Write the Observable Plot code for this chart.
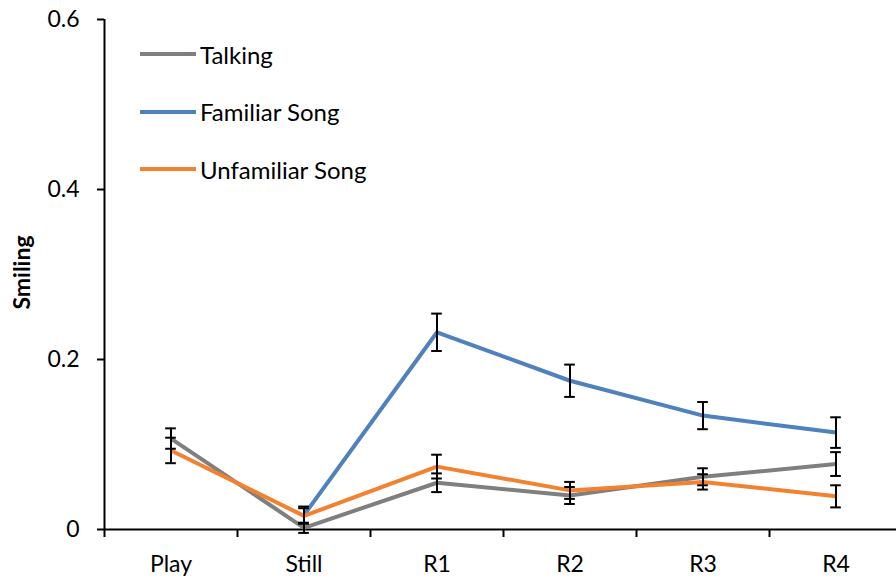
<!DOCTYPE html>
<html><head><meta charset="utf-8">
<script src="https://cdn.jsdelivr.net/npm/d3@7"></script>
<script src="https://cdn.jsdelivr.net/npm/@observablehq/plot@0.6"></script>
<style>
body{margin:0;background:#fff;}
#wrap{position:relative;width:896px;height:578px;font-family:Lato,"Open Sans",sans-serif;}
#legend{position:absolute;left:140px;top:39px;}
.item{display:flex;align-items:center;height:30px;margin-bottom:27.5px;font-size:24px;color:#000}
.sw{width:56px;height:4px;margin-right:4px}
</style></head><body><div id="wrap"><div id="legend"></div></div>
<script>
const categories = ["Play", "Still", "R1", "R2", "R3", "R4"];
const seriesNames = ["Talking", "Familiar Song", "Unfamiliar Song"];
const seriesColors = ["#7f7f7f", "#4f81bd", "#f28130"];
const talking      = [0.107, 0.002, 0.055, 0.040, 0.062, 0.077];
const talkingErr   = [0.012, 0.006, 0.011, 0.010, 0.010, 0.014];
const familiar     = [null,  0.017, 0.232, 0.175, 0.134, 0.114];
const familiarErr  = [null,  0.010, 0.022, 0.019, 0.016, 0.018];
const unfamiliar   = [0.093, 0.016, 0.074, 0.046, 0.056, 0.039];
const unfamiliarErr= [0.015, 0.009, 0.014, 0.010, 0.009, 0.013];
const yTicks = [0, 0.2, 0.4, 0.6];

const values = [talking, familiar, unfamiliar];
const errs = [talkingErr, familiarErr, unfamiliarErr];
const rows = [];
seriesNames.forEach((s, k) => categories.forEach((c, i) => {
  if (values[k][i] != null) rows.push({series: s, i, v: values[k][i], e: errs[k][i]});
}));
const capHalf = 0.04;
const xDomain = [-0.5, categories.length - 0.5];

const chart = Plot.plot({
  width: 896, height: 578,
  marginLeft: 104, marginRight: 0, marginTop: 19, marginBottom: 49,
  style: {fontFamily: "Lato, 'Open Sans', sans-serif", fontSize: "22px", color: "#000", background: "#fff"},
  x: {type: "linear", domain: xDomain, range: [104, 104 + 133 * categories.length]},
  y: {domain: [0, 0.6]},
  color: {domain: seriesNames, range: seriesColors},
  marks: [
    Plot.axisY({ticks: yTicks, tickFormat: d => d === 0 ? "0" : d3.format(".1f")(d), tickSize: 7, tickPadding: 18, label: null, stroke: "#000", strokeWidth: 2, fontSize: 23}),
    Plot.axisX({ticks: d3.range(-0.5, categories.length, 1), tickFormat: () => "", tickSize: 8, label: null, stroke: "#000", strokeWidth: 2}),
    Plot.axisX({ticks: d3.range(categories.length), tickFormat: i => categories[i], tickSize: 0, tickPadding: 26, label: null, fontSize: 23}),
    Plot.ruleY([0], {stroke: "#000", strokeWidth: 2}),
    Plot.ruleX([xDomain[0]], {stroke: "#000", strokeWidth: 2}),
    Plot.text(["Smiling"], {frameAnchor: "left", textAnchor: "middle", rotate: -90, dx: -82, dy: -2, fontWeight: "bold", fontSize: 23}),
    Plot.line(rows, {x: "i", y: "v", z: "series", stroke: "series", strokeWidth: 4, strokeLinejoin: "miter", strokeLinecap: "butt"}),
    Plot.ruleX(rows, {x: "i", y1: d => d.v - d.e, y2: d => d.v + d.e, stroke: "#000", strokeWidth: 2}),
    Plot.ruleY(rows, {y: d => d.v + d.e, x1: d => d.i - capHalf, x2: d => d.i + capHalf, stroke: "#000", strokeWidth: 2}),
    Plot.ruleY(rows, {y: d => d.v - d.e, x1: d => d.i - capHalf, x2: d => d.i + capHalf, stroke: "#000", strokeWidth: 2})
  ]
});
const wrap = document.getElementById("wrap");
wrap.insertBefore(chart, wrap.firstChild);
const legend = document.getElementById("legend");
seriesNames.forEach((s, k) => {
  const it = document.createElement("div");
  it.className = "item";
  const sw = document.createElement("div");
  sw.className = "sw";
  sw.style.background = seriesColors[k];
  const t = document.createElement("span");
  t.textContent = s;
  it.appendChild(sw); it.appendChild(t);
  legend.appendChild(it);
});
</script></body></html>
